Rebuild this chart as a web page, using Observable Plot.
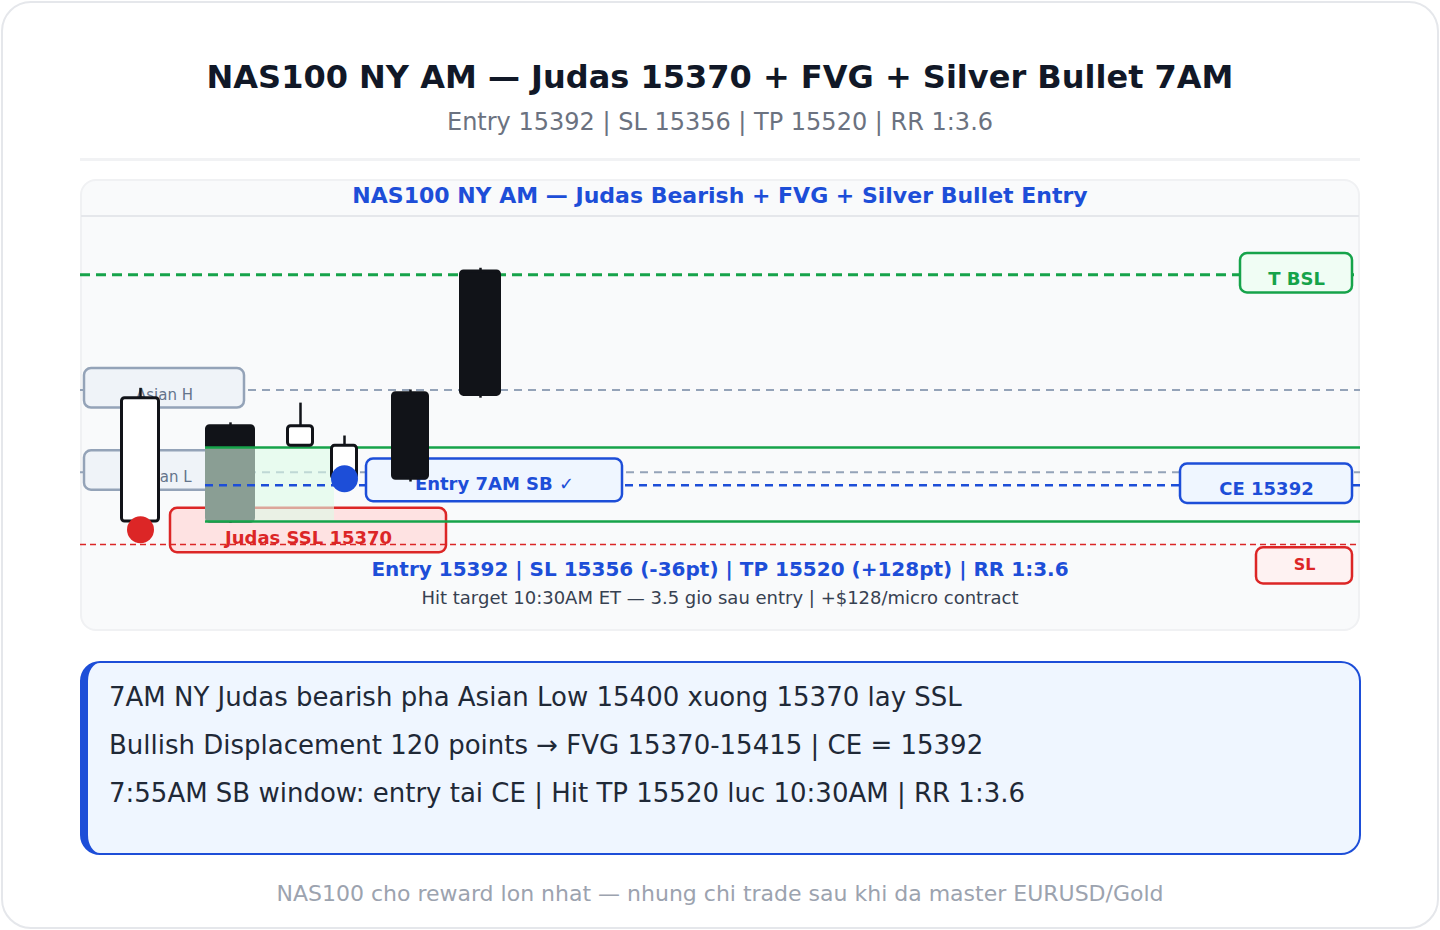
<!DOCTYPE html>
<html><head><meta charset="utf-8">
<script src="https://cdn.jsdelivr.net/npm/d3@7"></script>
<script src="https://cdn.jsdelivr.net/npm/@observablehq/plot@0.6"></script>
<style>
html,body{margin:0;padding:0;background:#fff;}
body{width:1440px;height:930px;position:relative;overflow:hidden;font-family:"DejaVu Sans",sans-serif;}
.abs{position:absolute;box-sizing:border-box;}
.t{position:absolute;white-space:nowrap;line-height:1;}
</style></head><body>
<script>
// ---------------- data ----------------
const title = "NAS100 NY AM — Judas 15370 + FVG + Silver Bullet 7AM";
const subtitle = "Entry 15392 | SL 15356 | TP 15520 | RR 1:3.6";
const panelTitle = "NAS100 NY AM — Judas Bearish + FVG + Silver Bullet Entry";
const summary = "Entry 15392 | SL 15356 (-36pt) | TP 15520 (+128pt) | RR 1:3.6";
const hitNote = "Hit target 10:30AM ET — 3.5 gio sau entry | +$128/micro contract";
const notes = [
  "7AM NY Judas bearish pha Asian Low 15400 xuong 15370 lay SSL",
  "Bullish Displacement 120 points → FVG 15370-15415 | CE = 15392",
  "7:55AM SB window: entry tai CE | Hit TP 15520 luc 10:30AM | RR 1:3.6"
];
const footer = "NAS100 cho reward lon nhat — nhung chi trade sau khi da master EURUSD/Gold";

// candles (time in chart units, OHLC in index points)
const candleTime  = [6, 15, 22, 26.4, 33, 40];
const candleOpen  = [15370, 15428, 15416, 15396, 15448, 15522];
const candleHigh  = [15451, 15430, 15442, 15422, 15450, 15524];
const candleLow   = [15366, 15369, 15416, 15396, 15394, 15445];
const candleClose = [15445, 15370, 15428, 15416, 15396, 15447];
const candleWidth = [3.7, 4.7, 2.5, 2.5, 3.5, 3.9];

// key levels
const levelName  = ["T BSL", "Asian H", "Asian L", "CE", "SL"];
const levelPrice = [15520, 15450, 15400, 15392, 15356];
const fvgLow = 15370, fvgHigh = 15415, fvgStart = 12.5, fvgEnd = 25.4;

// markers
const markerName  = ["Judas low", "Entry"];
const markerTime  = [6, 26.4];
const markerPrice = [15365, 15396];

// label boxes
const labelText  = ["Asian H", "Asian L", "Judas SSL 15370", "Entry 7AM SB ✓", "T BSL", "CE 15392", "SL"];
const labelKind  = ["asian", "asian", "sl", "entry", "tp", "entry", "slbox"];
const labelX1    = [0.4, 0.4, 9, 28.6, 116, 110, 117.6];
const labelX2    = [16.4, 16.4, 36.6, 54.2, 127.2, 127.2, 127.2];
const labelY1    = [15439, 15389, 15351, 15382, 15509, 15381, 15332];
const labelY2    = [15463, 15413, 15378, 15408, 15533, 15405, 15354];
const labelTextY = [15446.9, 15397.1, 15360, 15392.5, 15517.2, 15389.9, 15343.9];

// ---------------- build ----------------
const candles = candleTime.map((t, i) => ({t, o: candleOpen[i], h: candleHigh[i], l: candleLow[i], c: candleClose[i], w: candleWidth[i], i}));
const levels = levelName.map((name, i) => ({name, price: levelPrice[i]}));
const markers = markerName.map((name, i) => ({name, t: markerTime[i], p: markerPrice[i]}));
const labels = labelText.map((text, i) => ({text, kind: labelKind[i], x1: labelX1[i], x2: labelX2[i], y1: labelY1[i], y2: labelY2[i], ty: labelTextY[i], i}));

const boxFill = {asian: "#eff3f8", sl: "#fee2e2", entry: "#eff6ff", tp: "#f0fdf4", slbox: "#fef2f2"};
const boxStroke = {asian: "#94a3b8", sl: "#dc2626", entry: "#1d4ed8", tp: "#16a34a", slbox: "#dc2626"};
const textColor = {asian: "#64748b", sl: "#dc2626", entry: "#1d4ed8", tp: "#16a34a", slbox: "#dc2626"};
const textSize = {asian: 15, sl: 18, entry: 18, tp: 18, slbox: 16};
const markerColor = {"Judas low": "#dc2626", "Entry": "#1d4ed8"};

const lv = n => levels.filter(d => d.name === n);
const lab = idx => labels.filter(d => idx.includes(d.i));

function boxMarks(idx) {
  const data = lab(idx);
  const out = [Plot.rect(data, {x1: "x1", x2: "x2", y1: "y1", y2: "y2", fill: d => boxFill[d.kind], stroke: d => boxStroke[d.kind], strokeWidth: 2.5, rx: 7})];
  for (const d of data) {
    out.push(Plot.text([d], {x: d => (d.x1 + d.x2) / 2, y: "ty", text: "text", fill: textColor[d.kind], fontSize: textSize[d.kind], fontWeight: d.kind === "asian" ? "normal" : "bold", textAnchor: "middle"}));
  }
  return out;
}
function candleMarks(filter) {
  const data = candles.filter(filter);
  return [
    Plot.ruleX(data, {x: "t", y1: "l", y2: "h", stroke: "#111318", strokeWidth: 2.5}),
    Plot.rect(data, {x1: d => d.t - d.w / 2, x2: d => d.t + d.w / 2, y1: "o", y2: "c",
      fill: d => d.c >= d.o ? "#ffffff" : "#111318", stroke: "#111318", strokeWidth: 3, rx: 3})
  ];
}

const chart = Plot.plot({
  width: 1280, height: 414,
  marginLeft: 0, marginRight: 0, marginTop: 25.45, marginBottom: 26.75,
  x: {domain: [0, 128], axis: null},
  y: {domain: [15320, 15540], axis: null},
  color: {type: "identity"},
  style: {background: "transparent", overflow: "visible", fontFamily: "DejaVu Sans"},
  marks: [
    Plot.ruleY(lv("Asian H").concat(lv("Asian L")), {y: "price", stroke: "#94a3b8", strokeWidth: 2, strokeDasharray: "8,6"}),
    Plot.ruleY(lv("T BSL"), {y: "price", stroke: "#16a34a", strokeWidth: 3, strokeDasharray: "10,6"}),
    ...boxMarks([0, 1, 2]),
    ...candleMarks(d => d.i < 2),
    Plot.rect([{x1: fvgStart, x2: fvgEnd, y1: fvgLow, y2: fvgHigh}], {x1: "x1", x2: "x2", y1: "y1", y2: "y2", fill: "#dcfce7", fillOpacity: 0.6}),
    Plot.ruleY([fvgLow, fvgHigh], {y: d => d, x1: fvgStart, x2: 128, stroke: "#16a34a", strokeWidth: 2.5}),
    Plot.ruleY(lv("CE"), {y: "price", x1: fvgStart, x2: 128, stroke: "#1d4ed8", strokeWidth: 2.5, strokeDasharray: "8,6"}),
    Plot.ruleY(lv("SL"), {y: "price", stroke: "#dc2626", strokeWidth: 1.6, strokeDasharray: "6,4"}),
    ...boxMarks([3, 4, 5, 6]),
    ...candleMarks(d => d.i >= 2),
    Plot.dot(markers, {x: "t", y: "p", r: 13.5, fill: d => markerColor[d.name]})
  ]
});

// ---------------- layout ----------------
const body = document.body;
function box(style) { const el = document.createElement("div"); el.className = "abs"; Object.assign(el.style, style); body.appendChild(el); return el; }
function txt(str, {x = null, baseline, size, weight = 400, color}) {
  const el = document.createElement("div");
  el.className = "t";
  el.textContent = str;
  Object.assign(el.style, {fontSize: size + "px", fontWeight: weight, color, top: (baseline - 0.846 * size) + "px"});
  if (x === null) { el.style.left = "0px"; el.style.width = "1440px"; el.style.textAlign = "center"; }
  else el.style.left = x + "px";
  body.appendChild(el);
  return el;
}

box({left: "1px", top: "1px", width: "1438px", height: "928px", border: "2px solid #e5e7eb", borderRadius: "30px", background: "#fff"});
txt(title, {baseline: 88, size: 32, weight: 700, color: "#111827"});
txt(subtitle, {baseline: 130, size: 24, color: "#6b7280"});
box({left: "80px", top: "158px", width: "1280px", height: "3px", background: "#f1f2f4"});
box({left: "80px", top: "179px", width: "1280px", height: "452px", border: "2px solid #f0f1f3", borderRadius: "16px", background: "#f9fafb"});
box({left: "81px", top: "215px", width: "1278px", height: "2px", background: "#e5e7eb"});
txt(panelTitle, {baseline: 204, size: 22, weight: 700, color: "#1d4ed8"});

const holder = box({left: "80px", top: "216px", width: "1280px", height: "414px"});
holder.appendChild(chart);

txt(summary, {baseline: 576, size: 20, weight: 700, color: "#1d4ed8"});
txt(hitNote, {baseline: 604, size: 18, color: "#374151"});

box({left: "80px", top: "661px", width: "1281px", height: "194px", border: "2.5px solid #1d4ed8", borderLeft: "8px solid #1d4ed8", borderRadius: "20px", background: "#eff6ff"});
notes.forEach((n, i) => txt(n, {x: 109, baseline: 706 + i * 48, size: 26, color: "#1f2937"}));

txt(footer, {baseline: 902, size: 22, color: "#9ca3af"});
</script>
</body></html>
